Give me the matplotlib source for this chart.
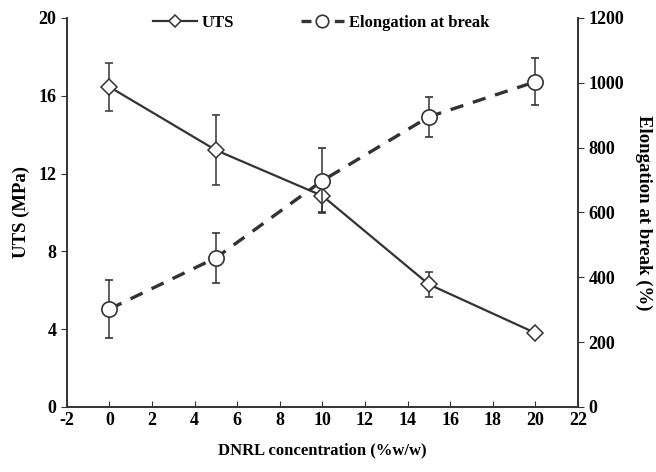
import matplotlib.pyplot as plt
from matplotlib.lines import Line2D
import numpy as np

plt.rcParams['font.family'] = ['Liberation Serif', 'DejaVu Serif']
plt.rcParams['font.weight'] = 'bold'
plt.rcParams['axes.unicode_minus'] = False

# DNRL concentration (%w/w)
conc = [0, 5, 10, 15, 20]
# UTS (MPa) and its error
uts = [16.45, 13.2, 10.85, 6.3, 3.8]
uts_err = [1.25, 1.8, 0.85, 0.64, 0.0]
# elongation at break (%) and its error
elong = [302, 460, 698, 895, 1003]
elong_err = [90, 77, 100, 62, 73]

col = '#333333'
fig = plt.figure(figsize=(6.56, 4.72), dpi=100)
ax = fig.add_axes([0.102, 0.138, 0.779, 0.824])
ax2 = ax.twinx()

ax.errorbar(conc, uts, yerr=uts_err, color=col, lw=1.6, marker='D', ms=8,
            mfc='white', mec=col, mew=1.1, capsize=3, elinewidth=1.1)
ax2.errorbar(conc, elong, yerr=elong_err, color=col, lw=2.4, ls=(0, (4, 3)),
             marker='o', ms=11, mfc='white', mec=col, mew=1.2, capsize=3,
             elinewidth=1.1)

ax.set_xlim(-2, 22)
ax.set_ylim(0, 20)
ax2.set_ylim(0, 1200)
ax.set_xticks(np.arange(-2, 23, 2))
ax.set_yticks(np.arange(0, 21, 4))
ax2.set_yticks(np.arange(0, 1201, 200))

for a in (ax, ax2):
    a.spines['top'].set_visible(False)
    for sp in a.spines.values():
        sp.set_color(col)
        sp.set_linewidth(1.2)

ax.tick_params(axis='x', direction='in', length=4, labelsize=13, colors=col, labelcolor='black')
ax.tick_params(axis='y', direction='out', length=4, labelsize=13, colors=col, labelcolor='black')
ax2.tick_params(axis='y', direction='out', length=4, labelsize=13, colors=col, labelcolor='black')

ax.set_xlabel('DNRL concentration (%w/w)', fontsize=12, fontweight='bold', labelpad=10)
ax.set_ylabel('UTS (MPa)', fontsize=13.5, fontweight='bold', labelpad=6)
ax2.set_ylabel('Elongation at break (%)', fontsize=13.5, fontweight='bold',
               rotation=270, labelpad=20)

h1 = Line2D([], [], color=col, lw=1.6, marker='D', ms=6, mfc='white', mec=col, mew=1.1)
h2 = Line2D([], [], color=col, lw=2.4, ls=(0, (3, 2)), marker='o', ms=9, mfc='white', mec=col, mew=1.2)
fig.legend(handles=[h1, h2], labels=['UTS', 'Elongation at break'],
           loc='upper center', bbox_to_anchor=(0.49, 1.0),
           ncol=2, frameon=False, fontsize=12, handlelength=2.6,
           handletextpad=0.3, columnspacing=4)

fig.savefig('out.png', dpi=100)
